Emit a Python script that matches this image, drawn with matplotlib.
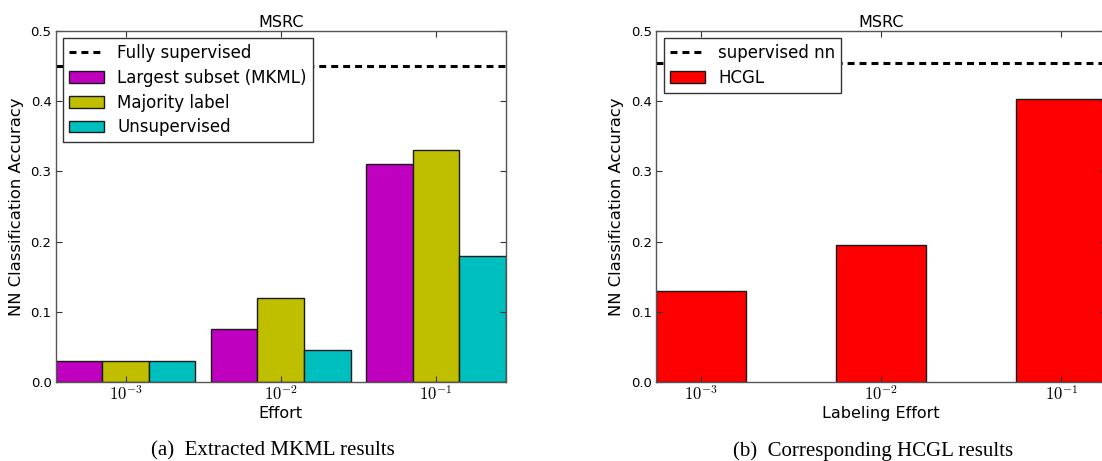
import numpy as np
import matplotlib
matplotlib.use("Agg")
import matplotlib.pyplot as plt

plt.rcParams['font.family'] = ['DejaVu Sans']
plt.rcParams['mathtext.fontset'] = 'cm'
plt.rcParams['lines.scale_dashes'] = False
plt.rcParams['xtick.direction'] = 'in'
plt.rcParams['ytick.direction'] = 'in'
plt.rcParams['xtick.top'] = True
plt.rcParams['ytick.right'] = True

# Effort levels (categorical positions on the x axis)
effort_labels = [r'$10^{-3}$', r'$10^{-2}$', r'$10^{-1}$']

# (a) Extracted MKML results
mkml_series = ['Largest subset (MKML)', 'Majority label', 'Unsupervised']
mkml_largest = [0.030, 0.075, 0.310]
mkml_majority = [0.030, 0.120, 0.330]
mkml_unsup = [0.030, 0.045, 0.180]
fully_supervised = 0.450

# (b) Corresponding HCGL results
hcgl_acc = [0.130, 0.195, 0.403]
supervised_nn = 0.455

mkml_colors = ['#bf00bf', '#bfbf00', '#00bfbf']
edge = '#1a1a1a'
spine_col = '#555555'

fig = plt.figure(figsize=(11.02, 4.61), dpi=100)
ax1 = fig.add_axes([55.7 / 1102, 79 / 461, 450 / 1102, 351 / 461])
ax2 = fig.add_axes([656.3 / 1102, 79 / 461, 450 / 1102, 351 / 461])

x = np.arange(len(effort_labels))


def style_axes(ax):
    for s in ax.spines.values():
        s.set_color(spine_col)
        s.set_linewidth(1.0)
    ax.tick_params(axis='both', which='major', length=4, width=0.8, color='#333333')
    ax.tick_params(axis='y', labelsize=9.5, pad=3)
    ax.tick_params(axis='x', labelsize=12, pad=2)
    ax.set_ylim(0, 0.5)
    ax.set_yticks(np.arange(0, 0.51, 0.1))
    ax.set_yticklabels(['%.1f' % v for v in np.arange(0, 0.51, 0.1)])
    ax.set_xticks(x)
    ax.set_xticklabels(effort_labels)
    ax.set_title('MSRC', fontsize=11.5, pad=3)
    ax.set_ylabel('NN Classification Accuracy', fontsize=11.8, labelpad=5)


def make_legend(ax, handles):
    leg = ax.legend(handles=handles, loc='upper left', fontsize=12, fancybox=False,
                    framealpha=1, edgecolor='#333333', borderaxespad=0.45, labelspacing=0.4,
                    handlelength=2.1, handletextpad=0.8, borderpad=0.35)
    leg.get_frame().set_linewidth(1.0)
    return leg


# ---- left panel
w = 0.3
sup1, = ax1.plot([-0.45, 2.45], [fully_supervised] * 2, color='black', lw=2.2,
                 dashes=(5, 3.6), label='Fully supervised')
b1 = ax1.bar(x - w, mkml_largest, w, color=mkml_colors[0], edgecolor=edge, lw=1, label=mkml_series[0])
b2 = ax1.bar(x, mkml_majority, w, color=mkml_colors[1], edgecolor=edge, lw=1, label=mkml_series[1])
b3 = ax1.bar(x + w, mkml_unsup, w, color=mkml_colors[2], edgecolor=edge, lw=1, label=mkml_series[2])
ax1.set_xlim(-0.45, 2.45)
style_axes(ax1)
ax1.set_xlabel('Effort', fontsize=11.5, labelpad=2)
make_legend(ax1, [sup1, b1, b2, b3])

# ---- right panel
w2 = 0.5
sup2, = ax2.plot([-0.25, 2.25], [supervised_nn] * 2, color='black', lw=2.2,
                 dashes=(5, 3.6), label='supervised nn')
b4 = ax2.bar(x, hcgl_acc, w2, color='#ff0000', edgecolor=edge, lw=1, label='HCGL')
ax2.set_xlim(-0.25, 2.25)
style_axes(ax2)
ax2.set_xlabel('Labeling Effort', fontsize=11.5, labelpad=2)
make_legend(ax2, [sup2, b4])

# captions
fig.text(273 / 1102, 1 - 451 / 461, '(a)  Extracted MKML results', family='Liberation Serif',
         fontsize=15, ha='center', va='center')
fig.text(873.5 / 1102, 1 - 451 / 461, '(b)  Corresponding HCGL results', family='Liberation Serif',
         fontsize=15, ha='center', va='center')

fig.savefig('out.png', dpi=100)
